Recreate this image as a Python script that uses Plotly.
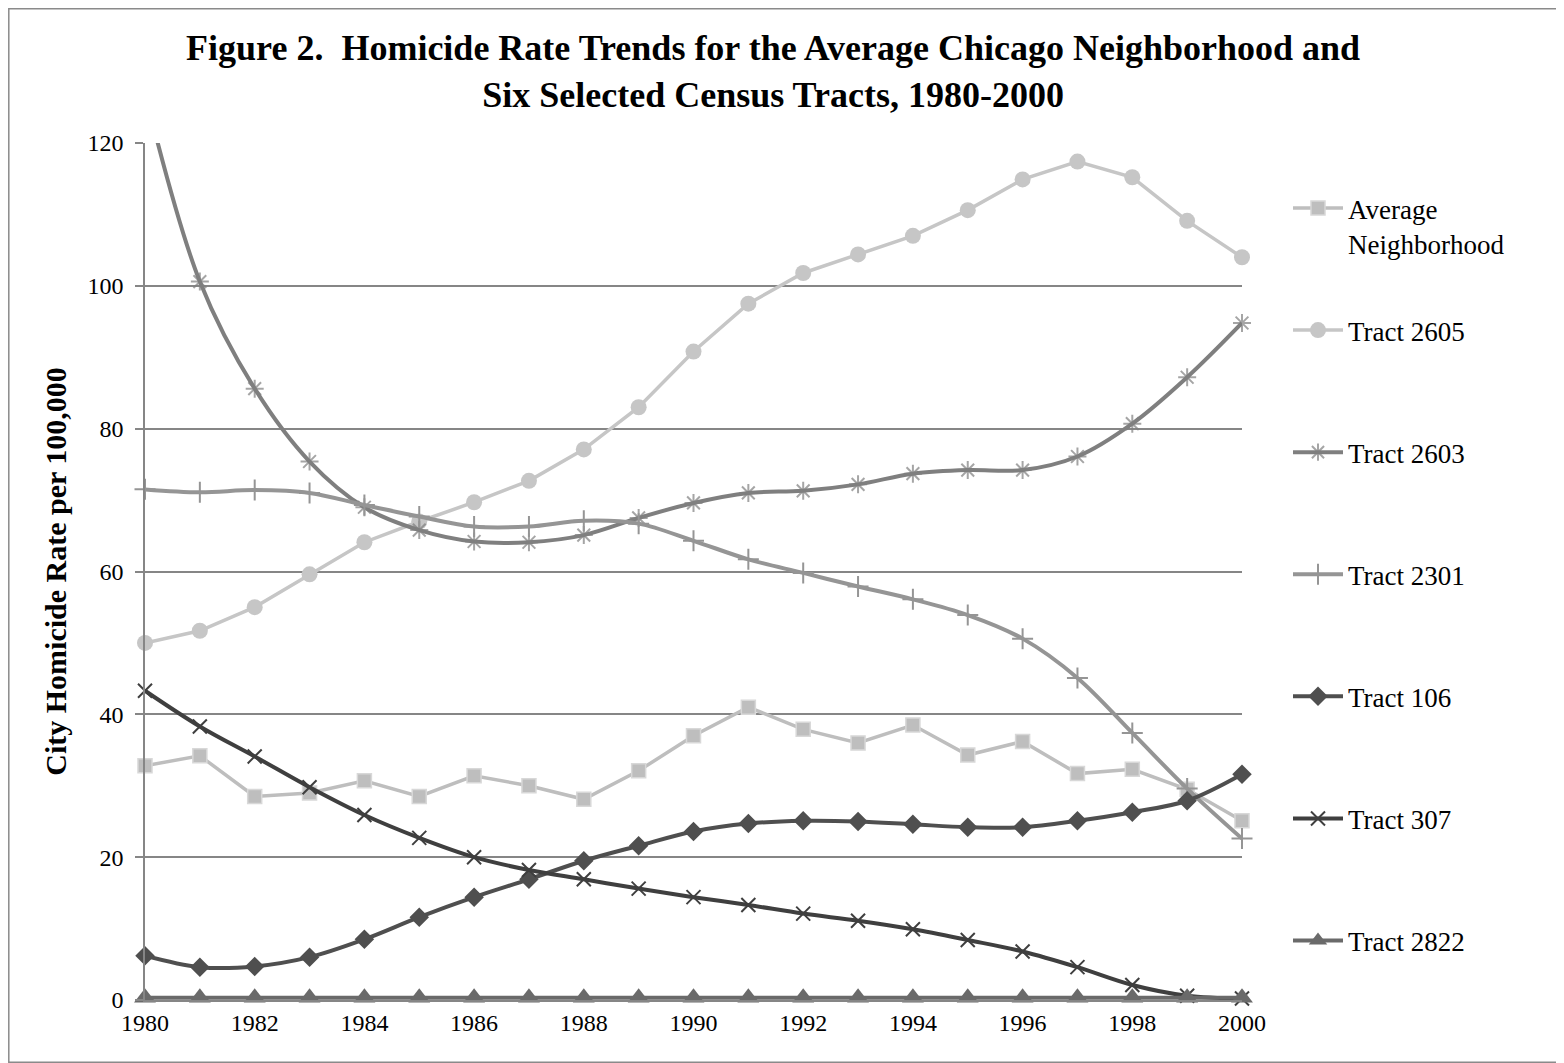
import plotly.graph_objects as go

years = list(range(1980, 2001))

average_neighborhood = [32.8, 34.2, 28.5, 29.0, 30.7, 28.5, 31.4, 30.0, 28.1, 32.1, 37.0,
                        41.0, 37.9, 36.0, 38.5, 34.3, 36.2, 31.7, 32.3, 29.5, 25.1]
tract_2605 = [50.0, 51.7, 55.0, 59.6, 64.1, 67.0, 69.7, 72.7, 77.1, 83.0, 90.8,
              97.5, 101.8, 104.4, 107.0, 110.6, 114.9, 117.4, 115.2, 109.1, 104.0]
tract_2603 = [127.0, 100.6, 85.6, 75.4, 69.0, 65.8, 64.2, 64.1, 65.1, 67.5, 69.6,
              71.0, 71.3, 72.2, 73.7, 74.2, 74.2, 76.1, 80.7, 87.2, 94.8]
tract_2301 = [71.5, 71.1, 71.4, 71.0, 69.3, 67.7, 66.3, 66.3, 67.1, 66.7, 64.3,
              61.7, 59.8, 57.9, 56.1, 53.9, 50.6, 45.1, 37.4, 29.6, 22.6]
tract_106 = [6.2, 4.6, 4.7, 6.0, 8.5, 11.6, 14.4, 16.9, 19.5, 21.6, 23.6,
             24.7, 25.1, 25.0, 24.6, 24.2, 24.2, 25.1, 26.3, 27.9, 31.6]
tract_307 = [43.3, 38.3, 34.1, 29.8, 25.9, 22.7, 20.0, 18.2, 16.9, 15.6, 14.4,
             13.3, 12.1, 11.1, 9.9, 8.4, 6.8, 4.6, 2.1, 0.6, 0.2]
tract_2822 = [0.3] * 21

y_ticks = [0, 20, 40, 60, 80, 100, 120]
x_ticks = list(range(1980, 2001, 2))

SERIF = "Liberation Serif"
W, H = 1556, 1055
ML, MR, MT, MB = 137, 322, 135, 63
PW, PH = W - ML - MR, H - MT - MB


def px_to_paper_x(px):
    return (px - ML) / PW


def px_to_paper_y(py):
    return (H - MB - py) / PH


fig = go.Figure()


def add(name, y, color, symbol, size, legend, shape="spline", lw=4, mline=None, sizes=None):
    marker = dict(symbol=symbol, size=sizes if sizes is not None else size, color=color)
    marker["line"] = mline if mline is not None else dict(color=color, width=2)
    fig.add_trace(go.Scatter(
        x=years, y=y, name=name, mode="lines+markers",
        line=dict(color=color, width=lw, shape=shape, smoothing=1.0),
        marker=marker, cliponaxis=False, legendgroup=name, legend=legend,
        showlegend=True,
    ))


add("Average<br>Neighborhood", average_neighborhood, "#bebebe", "square", 14, "legend",
    shape="linear", lw=3.5, mline=dict(color="#d8d8d8", width=1.5))
add("Tract 2605", tract_2605, "#c6c6c6", "circle", 16, "legend2", shape="linear", lw=3.5,
    mline=dict(color="#c6c6c6", width=0))
add("Tract 2603", tract_2603, "#7f7f7f", "asterisk-open", 15, "legend2",
    sizes=[0] + [15] * 20)
add("Tract 2301", tract_2301, "#959595", "cross-thin-open", 15, "legend2")
add("Tract 106", tract_106, "#4f4f4f", "diamond", 15, "legend2",
    mline=dict(color="#4f4f4f", width=0))
add("Tract 307", tract_307, "#3f3f3f", "x-thin-open", 14, "legend2")
add("Tract 2822", tract_2822, "#6a6a6a", "triangle-up", 19, "legend2", shape="linear",
    mline=dict(color="#6a6a6a", width=0))

legend_common = dict(
    xanchor="left", yanchor="top", valign="top", bgcolor="rgba(0,0,0,0)",
    font=dict(family=SERIF, size=27, color="black"), itemwidth=50,
)

fig.update_layout(
    width=W, height=H, showlegend=True,
    margin=dict(l=ML, r=MR, t=MT, b=MB),
    paper_bgcolor="white", plot_bgcolor="white",
    font=dict(family=SERIF, color="black"),
    title=dict(
        text="<b>Figure 2.  Homicide Rate Trends for the Average Chicago Neighborhood and<br>Six Selected Census Tracts, 1980-2000</b>",
        x=0.4917, xanchor="center", y=0.9505, yanchor="middle", yref="container",
        font=dict(family=SERIF, size=36, color="black"),
    ),
    xaxis=dict(
        range=[1980, 2000], tickvals=x_ticks, ticktext=[str(v) for v in x_ticks],
        showgrid=False, zeroline=False, showline=True, linecolor="#868686", linewidth=1.5,
        ticks="", tickfont=dict(family=SERIF, size=24, color="black"),
    ),
    yaxis=dict(
        range=[0, 120], tickvals=y_ticks, showgrid=True, gridcolor="#868686", gridwidth=1.5,
        zeroline=False, showline=True, linecolor="#868686", linewidth=1.5,
        ticks="outside", ticklen=8, tickcolor="#868686", tickwidth=1.5,
        ticklabelstandoff=7,
        tickfont=dict(family=SERIF, size=24, color="black"),
        title=dict(text="<b>City Homicide Rate per 100,000</b>",
                   font=dict(family=SERIF, size=30, color="black"), standoff=12),
    ),
    legend=dict(x=px_to_paper_x(1280), y=px_to_paper_y(176), **legend_common),
    legend2=dict(x=px_to_paper_x(1280), y=px_to_paper_y(298), tracegroupgap=84,
                 **legend_common),
    shapes=[dict(type="rect", xref="paper", yref="paper",
                 x0=px_to_paper_x(0.8), x1=px_to_paper_x(W - 0.8),
                 y0=px_to_paper_y(H - 0.8), y1=px_to_paper_y(0.8),
                 line=dict(color="#8a8a8a", width=1.5), layer="below")],
)

fig.write_html("out.html")
